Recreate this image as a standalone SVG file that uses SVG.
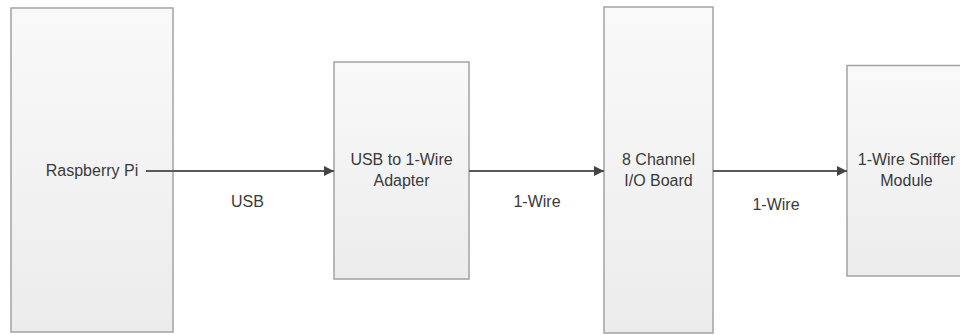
<svg xmlns="http://www.w3.org/2000/svg" width="960" height="335" viewBox="0 0 960 335">
  <defs>
    <linearGradient id="boxfill" x1="0" y1="0" x2="0" y2="1">
      <stop offset="0" stop-color="#f9f9f9"/>
      <stop offset="1" stop-color="#ececec"/>
    </linearGradient>
    <marker id="arrow" viewBox="0 0 10 10" refX="10" refY="5" markerWidth="5" markerHeight="5" orient="auto" markerUnits="strokeWidth">
      <path d="M0,0 L10,5 L0,10 z" fill="#444"/>
    </marker>
    <style>
      .box { fill: url(#boxfill); stroke: #a3a3a3; stroke-width: 1.5; }
      .lbl { font-family: "Liberation Sans", Arial, sans-serif; font-size: 16px; fill: #3a3a3a; text-anchor: middle; }
      .conn { stroke: #5a5a5a; stroke-width: 2; fill: none; marker-end: url(#arrow); }
    </style>
  </defs>
  <rect width="960" height="335" fill="#ffffff"/>
  <g id="raspberry-pi">
    <rect class="box" x="11" y="8" width="162" height="324"/>
  </g>
  <g id="usb-adapter">
    <rect class="box" x="334" y="62" width="135" height="217"/>
    <text class="lbl" x="401.5" y="165">USB to 1-Wire</text>
    <text class="lbl" x="401.5" y="186">Adapter</text>
  </g>
  <g id="io-board">
    <rect class="box" x="604" y="7" width="109" height="326"/>
    <text class="lbl" x="658.5" y="165">8 Channel</text>
    <text class="lbl" x="658.5" y="186">I/O Board</text>
  </g>
  <g id="sniffer">
    <rect class="box" x="847" y="65.5" width="120" height="210.5"/>
    <text class="lbl" x="906.5" y="165">1-Wire Sniffer</text>
    <text class="lbl" x="906.5" y="186">Module</text>
  </g>
  <g id="connectors">
    <line class="conn" x1="146" y1="171" x2="334" y2="171"/>
    <line class="conn" x1="469" y1="171" x2="604" y2="171"/>
    <line class="conn" x1="713" y1="171" x2="847" y2="171"/>
    <text class="lbl" x="247.5" y="207">USB</text>
    <text class="lbl" x="537" y="207">1-Wire</text>
    <text class="lbl" x="776" y="210">1-Wire</text>
  </g>
  <g id="raspberry-pi-label">
    <text class="lbl" x="92" y="176">Raspberry Pi</text>
  </g>
</svg>
